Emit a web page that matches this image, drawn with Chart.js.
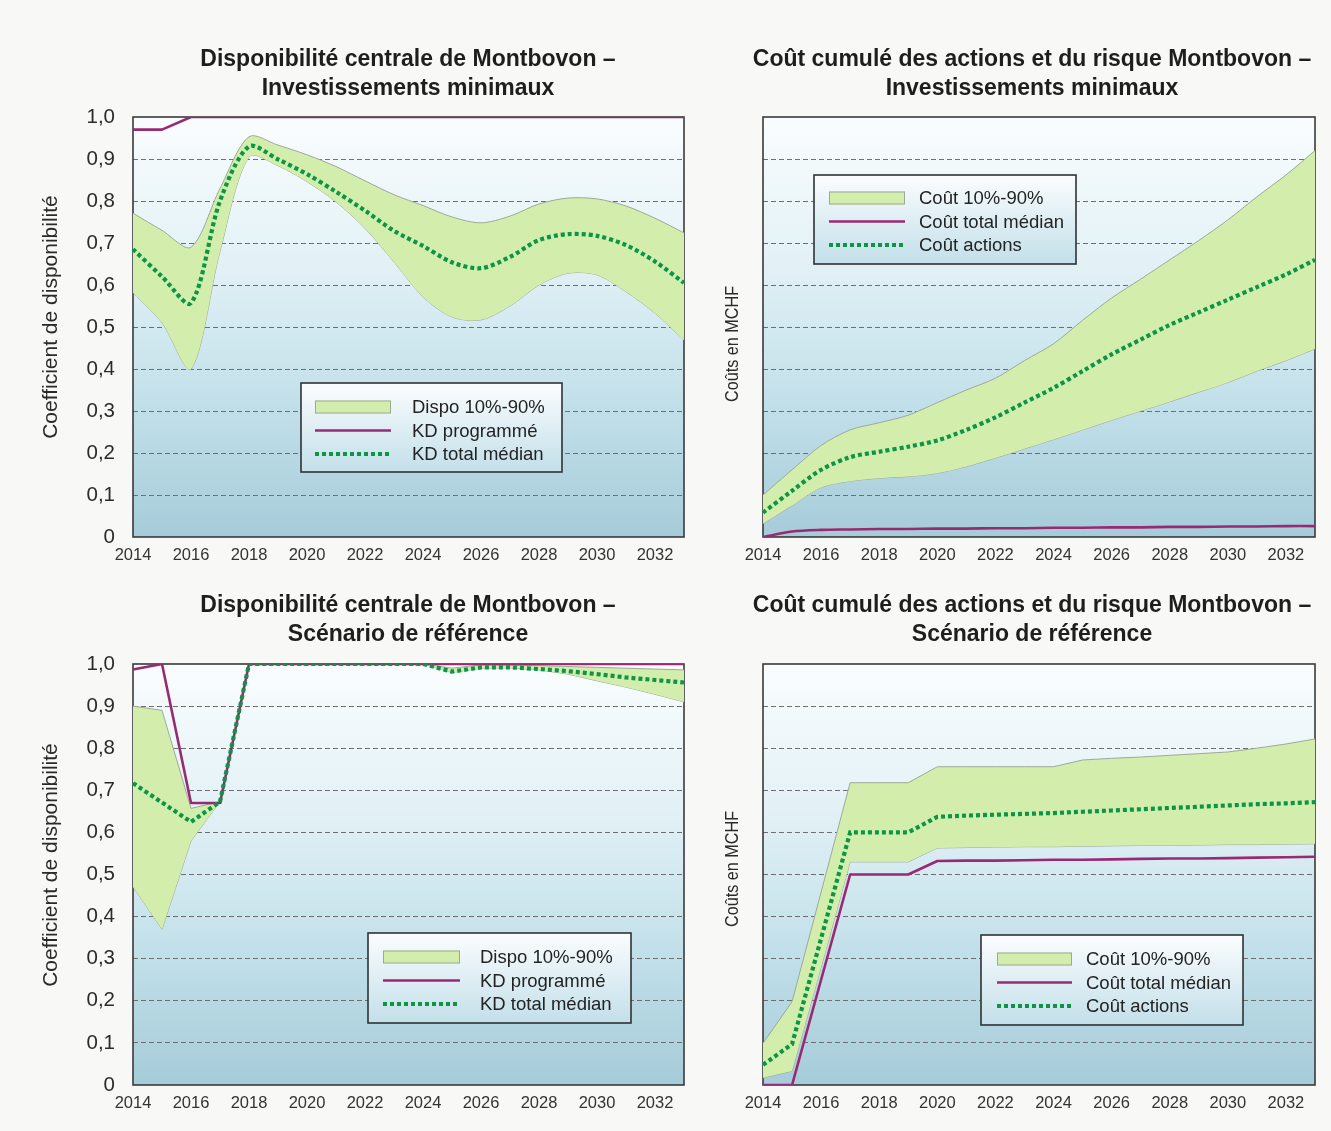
<!DOCTYPE html>
<html lang="fr">
<head>
<meta charset="utf-8">
<title>Montbovon – disponibilité et coûts cumulés</title>
<script src="https://cdn.jsdelivr.net/npm/chart.js@4.4.1/dist/chart.umd.min.js"></script>
<style>
  html, body { margin: 0; padding: 0; background: #f8f8f7; }
  body { width: 1331px; height: 1131px; position: relative; overflow: hidden;
         font-family: "Liberation Sans", Arial, Helvetica, sans-serif; color: #222; }
  canvas { position: absolute; }
  .title { position: absolute; width: 640px; text-align: center; font-weight: bold;
           font-size: 23px; line-height: 29px; color: #1e1e1e; white-space: nowrap; }
  .ytitle { position: absolute; font-size: 21px; color: #2a2a2a; white-space: nowrap;
            transform: translate(-50%, -50%) rotate(-90deg); }
  .ytitle.cost { font-size: 18px; transform: translate(-50%, -50%) rotate(-90deg) scaleX(0.9); }
</style>
</head>
<body>
<canvas id="dispoMin" width="700" height="580" style="left:0;top:0"></canvas>
<canvas id="coutMin" width="631" height="580" style="left:700px;top:0"></canvas>
<canvas id="dispoRef" width="700" height="551" style="left:0;top:580px"></canvas>
<canvas id="coutRef" width="631" height="551" style="left:700px;top:580px"></canvas>

<div class="title" style="left:88px;top:44px">Disponibilité centrale de Montbovon –<br>Investissements minimaux</div>
<div class="title" style="left:712px;top:44px">Coût cumulé des actions et du risque Montbovon –<br>Investissements minimaux</div>
<div class="title" style="left:88px;top:590px">Disponibilité centrale de Montbovon –<br>Scénario de référence</div>
<div class="title" style="left:712px;top:590px">Coût cumulé des actions et du risque Montbovon –<br>Scénario de référence</div>

<div class="ytitle" style="left:50px;top:317px">Coefficient de disponibilité</div>
<div class="ytitle cost" style="left:732px;top:344px">Coûts en MCHF</div>
<div class="ytitle" style="left:50px;top:865px">Coefficient de disponibilité</div>
<div class="ytitle cost" style="left:732px;top:869px">Coûts en MCHF</div>

<script>
// ---- Years and axis ticks ----
const YEARS = [2014, 2015, 2016, 2017, 2018, 2019, 2020, 2021, 2022, 2023,
               2024, 2025, 2026, 2027, 2028, 2029, 2030, 2031, 2032, 2033];
const YEAR_TICKS = [2014, 2016, 2018, 2020, 2022, 2024, 2026, 2028, 2030, 2032];
const VALUE_TICKS = [0, 0.1, 0.2, 0.3, 0.4, 0.5, 0.6, 0.7, 0.8, 0.9, 1.0];

// ---- Legend labels ----
const DISPO_LABELS = ['Dispo 10%-90%', 'KD programmé', 'KD total médian'];
const COUT_LABELS = ['Coût 10%-90%', 'Coût total médian', 'Coût actions'];

// ---- Disponibilité – Investissements minimaux ----
const dispoMinHigh = [0.771, 0.730, 0.690, 0.830, 0.953, 0.933, 0.910, 0.882, 0.848, 0.815,
                      0.789, 0.762, 0.748, 0.764, 0.793, 0.807, 0.805, 0.788, 0.759, 0.724];
const dispoMinMedian = [0.685, 0.620, 0.557, 0.800, 0.930, 0.899, 0.864, 0.822, 0.777, 0.729,
                        0.693, 0.654, 0.640, 0.667, 0.707, 0.721, 0.717, 0.695, 0.656, 0.605];
const dispoMinLow = [0.582, 0.510, 0.400, 0.680, 0.905, 0.884, 0.846, 0.798, 0.735, 0.655,
                     0.572, 0.524, 0.517, 0.550, 0.600, 0.628, 0.624, 0.584, 0.533, 0.469];
const dispoMinPlanned = [0.970, 0.970, 1, 1, 1, 1, 1, 1, 1, 1,
                         1, 1, 1, 1, 1, 1, 1, 1, 1, 1];

// ---- Coût cumulé – Investissements minimaux ----
const coutMinHigh = [0.100, 0.160, 0.218, 0.255, 0.272, 0.290, 0.320, 0.350, 0.378, 0.420,
                     0.460, 0.516, 0.569, 0.614, 0.660, 0.706, 0.755, 0.810, 0.862, 0.920];
const coutMinActions = [0.058, 0.110, 0.160, 0.190, 0.203, 0.215, 0.230, 0.255, 0.285, 0.320,
                        0.355, 0.395, 0.435, 0.470, 0.505, 0.535, 0.565, 0.595, 0.625, 0.660];
const coutMinLow = [0.032, 0.075, 0.118, 0.133, 0.140, 0.144, 0.152, 0.168, 0.188, 0.210,
                    0.232, 0.255, 0.278, 0.300, 0.322, 0.345, 0.368, 0.395, 0.420, 0.448];
const coutMinTotal = [0.000, 0.013, 0.017, 0.018, 0.019, 0.019, 0.020, 0.020, 0.021, 0.021,
                      0.022, 0.022, 0.023, 0.023, 0.024, 0.024, 0.025, 0.025, 0.026, 0.026];

// ---- Disponibilité – Scénario de référence ----
const dispoRefHigh = [0.900, 0.890, 0.657, 0.673, 1, 1, 1, 1, 1, 1,
                      1, 0.990, 0.998, 0.997, 0.996, 0.994, 0.992, 0.990, 0.988, 0.986];
const dispoRefMedian = [0.717, 0.671, 0.625, 0.673, 1, 1, 1, 1, 1, 1,
                        1, 0.982, 0.992, 0.992, 0.988, 0.983, 0.976, 0.968, 0.962, 0.956];
const dispoRefLow = [0.471, 0.370, 0.580, 0.673, 1, 1, 1, 1, 1, 1,
                     1, 0.980, 0.990, 0.991, 0.986, 0.976, 0.960, 0.945, 0.928, 0.910];
const dispoRefPlanned = [0.987, 1, 0.670, 0.670, 1, 1, 1, 1, 1, 1,
                         1, 1, 1, 1, 1, 1, 1, 1, 1, 1];

// ---- Coût cumulé – Scénario de référence ----
const coutRefHigh = [0.099, 0.198, 0.458, 0.718, 0.718, 0.718, 0.756, 0.756, 0.756, 0.756,
                     0.756, 0.772, 0.776, 0.779, 0.783, 0.787, 0.791, 0.800, 0.810, 0.822];
const coutRefActions = [0.048, 0.097, 0.348, 0.600, 0.600, 0.600, 0.637, 0.640, 0.642, 0.644,
                        0.646, 0.649, 0.652, 0.655, 0.658, 0.661, 0.664, 0.667, 0.669, 0.672];
const coutRefLow = [0.017, 0.033, 0.280, 0.530, 0.530, 0.530, 0.563, 0.564, 0.565, 0.566,
                    0.566, 0.567, 0.568, 0.569, 0.569, 0.570, 0.571, 0.571, 0.572, 0.573];
const coutRefTotal = [0, 0, 0.250, 0.500, 0.500, 0.500, 0.532, 0.533, 0.533, 0.534,
                      0.535, 0.535, 0.536, 0.537, 0.538, 0.538, 0.539, 0.540, 0.541, 0.542];

// ---- Styling ----
const FONT = '"Liberation Sans", Arial, Helvetica, sans-serif';
const GREEN_DOTS = '#0b9646';
const PURPLE = '#982a74';
const BAND_FILL = '#d3eeac';
const BAND_EDGE = '#9ea899';
const GRID = '#6e6e6e';
const FRAME = '#3a3a3a';
const PLOT_GRADIENT = [[0, '#fafdfe'], [0.35, '#e2f1f6'], [0.68, '#c2e0ea'], [1, '#a6ccd9']];

// Gradient plot background and frame around the plotting area
const plotDecor = {
  id: 'plotDecor',
  beforeDraw(chart) {
    const { ctx, chartArea: a } = chart;
    const g = ctx.createLinearGradient(0, a.top, 0, a.bottom);
    PLOT_GRADIENT.forEach(([o, c]) => g.addColorStop(o, c));
    ctx.save();
    ctx.fillStyle = g;
    ctx.fillRect(a.left, a.top, a.right - a.left, a.bottom - a.top);
    ctx.restore();
  },
  beforeDatasetsDraw(chart) {
    const { ctx, chartArea: a } = chart;
    ctx.save();
    ctx.strokeStyle = FRAME;
    ctx.lineWidth = 1.6;
    ctx.strokeRect(a.left, a.top, a.right - a.left, a.bottom - a.top);
    ctx.restore();
  }
};

// Framed legend box placed inside the plotting area
const boxLegend = {
  id: 'boxLegend',
  afterDraw(chart, args, o) {
    const { ctx, chartArea: a } = chart;
    const x = a.left + o.x, y = a.top + o.y;
    ctx.save();
    const g = ctx.createLinearGradient(0, y, 0, y + o.height);
    g.addColorStop(0, '#fbfdfe');
    g.addColorStop(1, '#c3dfe9');
    ctx.fillStyle = g;
    ctx.fillRect(x, y, o.width, o.height);
    ctx.lineWidth = 1.6;
    ctx.strokeStyle = '#2e3335';
    ctx.strokeRect(x, y, o.width, o.height);
    const sets = chart.data.datasets;
    o.order.forEach((di, row) => {
      const d = sets[di];
      const cy = y + o.firstRow + row * o.rowGap;
      const sx = x + o.swatchX;
      if (d.fill) {
        ctx.fillStyle = d.backgroundColor;
        ctx.fillRect(sx, cy - 6.5, o.swatchW, 13);
        ctx.lineWidth = 1;
        ctx.strokeStyle = d.borderColor;
        ctx.strokeRect(sx + 0.5, cy - 6, o.swatchW - 1, 12);
      } else {
        ctx.beginPath();
        ctx.setLineDash(d.borderDash || []);
        ctx.lineCap = 'butt';
        ctx.lineWidth = d.borderWidth;
        ctx.strokeStyle = d.borderColor;
        ctx.moveTo(sx, cy);
        ctx.lineTo(sx + o.swatchW, cy);
        ctx.stroke();
        ctx.setLineDash([]);
      }
      ctx.fillStyle = '#232323';
      ctx.font = '18.5px ' + FONT;
      ctx.textAlign = 'left';
      ctx.textBaseline = 'middle';
      ctx.fillText(d.label, x + o.textX, cy + 1);
    });
    ctx.restore();
  }
};

function makeChart(id, spec) {
  const datasets = [
    { label: spec.labels[2], data: spec.median, borderColor: GREEN_DOTS, borderWidth: 4.2,
      borderDash: [4, 3], borderCapStyle: 'butt', tension: spec.tension, fill: false },
    { label: spec.labels[1], data: spec.planned, borderColor: PURPLE, borderWidth: 2.6,
      tension: spec.plannedTension, fill: false, borderJoinStyle: 'round' },
    { label: spec.labels[0], data: spec.high, borderColor: BAND_EDGE, borderWidth: 1,
      backgroundColor: BAND_FILL, fill: '+1', tension: spec.tension },
    { label: '', data: spec.low, borderColor: BAND_EDGE, borderWidth: 1,
      fill: false, tension: spec.tension }
  ];
  return new Chart(document.getElementById(id), {
    type: 'line',
    data: { labels: YEARS, datasets },
    options: {
      responsive: false,
      animation: false,
      devicePixelRatio: 1,
      events: [],
      elements: { point: { radius: 0 } },
      layout: { padding: { top: spec.padTop, right: 16, left: 0, bottom: 0 } },
      plugins: {
        legend: { display: false },
        title: { display: false },
        tooltip: { enabled: false },
        filler: { propagate: false },
        boxLegend: spec.legend
      },
      scales: {
        x: {
          type: 'category',
          offset: false,
          grid: { display: false, drawTicks: false },
          border: { display: false },
          ticks: {
            autoSkip: false, maxRotation: 0, minRotation: 0, padding: 9,
            color: '#333', font: { family: FONT, size: 16.5 },
            callback: (v, i) => (YEAR_TICKS.includes(YEARS[i]) ? String(YEARS[i]) : '')
          },
          afterFit: s => { s.height = spec.xAxisHeight; }
        },
        y: {
          type: 'linear',
          min: 0, max: 1,
          afterBuildTicks: s => { s.ticks = VALUE_TICKS.map(v => ({ value: v })); },
          grid: {
            drawTicks: false, lineWidth: 1,
            color: c => (c.tick && (c.tick.value <= 0 || c.tick.value >= 1) ? 'rgba(0,0,0,0)' : GRID)
          },
          border: { display: false, dash: [5, 3] },
          ticks: {
            display: spec.showValues, padding: 18, color: '#2b2b2b',
            font: { family: FONT, size: 20.5 },
            callback: v => (v === 0 ? '0' : v.toFixed(1).replace('.', ','))
          },
          afterFit: s => { s.width = spec.yAxisWidth; }
        }
      }
    },
    plugins: [plotDecor, boxLegend]
  });
}

makeChart('dispoMin', {
  labels: DISPO_LABELS, high: dispoMinHigh, median: dispoMinMedian, low: dispoMinLow,
  planned: dispoMinPlanned, tension: 0.3, plannedTension: 0,
  padTop: 117, xAxisHeight: 43, yAxisWidth: 133, showValues: true,
  legend: { x: 168, y: 266, width: 261, height: 89, swatchX: 14, swatchW: 76,
            textX: 111, firstRow: 24, rowGap: 23.5, order: [2, 1, 0] }
});

makeChart('coutMin', {
  labels: COUT_LABELS, high: coutMinHigh, median: coutMinActions, low: coutMinLow,
  planned: coutMinTotal, tension: 0.3, plannedTension: 0.3,
  padTop: 117, xAxisHeight: 43, yAxisWidth: 63, showValues: false,
  legend: { x: 51, y: 58, width: 262, height: 89, swatchX: 15, swatchW: 76,
            textX: 105, firstRow: 23, rowGap: 23.5, order: [2, 1, 0] }
});

makeChart('dispoRef', {
  labels: DISPO_LABELS, high: dispoRefHigh, median: dispoRefMedian, low: dispoRefLow,
  planned: dispoRefPlanned, tension: 0, plannedTension: 0,
  padTop: 84, xAxisHeight: 46, yAxisWidth: 133, showValues: true,
  legend: { x: 235, y: 269, width: 263, height: 90, swatchX: 15, swatchW: 77,
            textX: 112, firstRow: 24, rowGap: 23.5, order: [2, 1, 0] }
});

makeChart('coutRef', {
  labels: COUT_LABELS, high: coutRefHigh, median: coutRefActions, low: coutRefLow,
  planned: coutRefTotal, tension: 0, plannedTension: 0,
  padTop: 84, xAxisHeight: 46, yAxisWidth: 63, showValues: false,
  legend: { x: 218, y: 271, width: 262, height: 90, swatchX: 16, swatchW: 75,
            textX: 105, firstRow: 24, rowGap: 23.5, order: [2, 1, 0] }
});
</script>
</body>
</html>
